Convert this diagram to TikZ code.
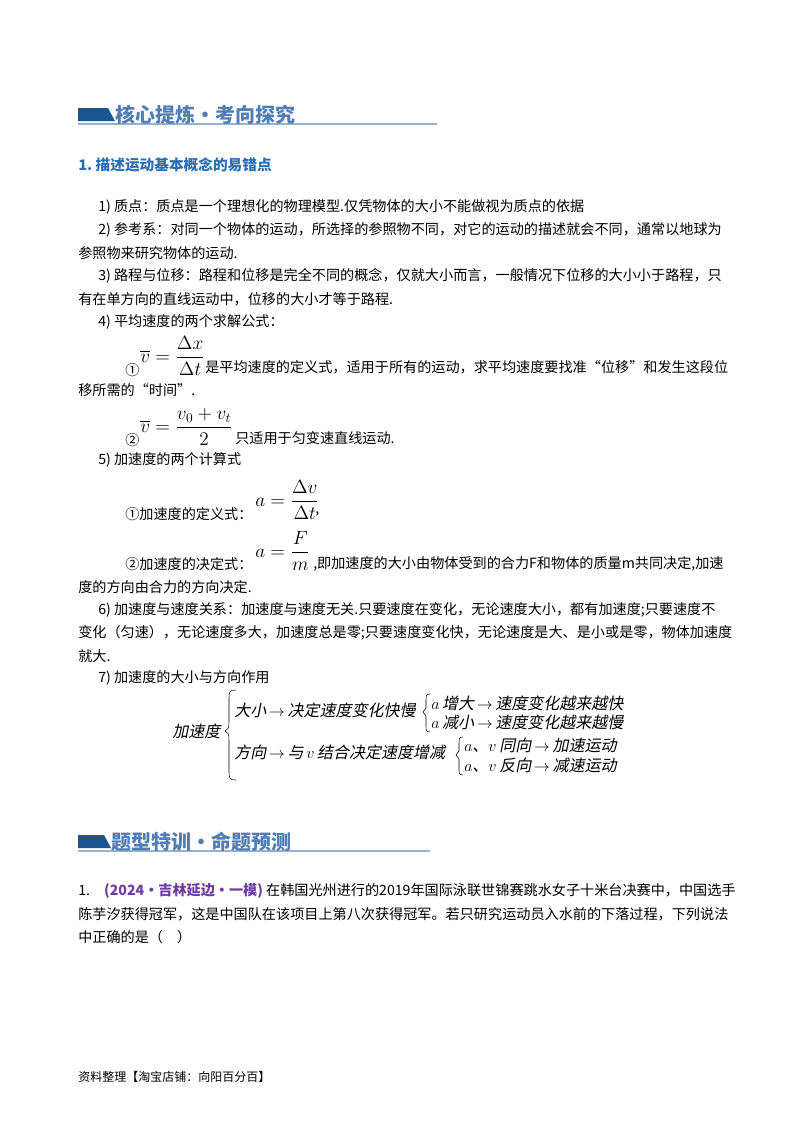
\documentclass[tikz,border=0pt]{standalone}
\usepackage{amsmath}
\usepackage{fontspec}
\setmainfont{Liberation Serif}
\newfontfamily\cjk{Noto Sans CJK SC}
\newfontfamily\cjki[FakeSlant=0.2]{Noto Sans CJK SC}
\definecolor{hdr}{RGB}{25,85,145}
\definecolor{hdrt}{RGB}{80,125,180}
\definecolor{sub}{RGB}{40,110,180}
\definecolor{src}{RGB}{110,60,160}
\begin{document}
\begin{tikzpicture}[x=0.75pt,y=-0.75pt,
  tl/.style={anchor=west,inner sep=0pt,font=\fontsize{10.6pt}{12pt}\selectfont\cjk},
  it/.style={anchor=west,inner sep=0pt,font=\fontsize{12pt}{14pt}\selectfont\cjki},
  hd/.style={anchor=west,inner sep=0pt,font=\fontsize{15pt}{17pt}\selectfont\cjk\bfseries,text=hdrt}]
\useasboundingbox (0,0) rectangle (800,1132);
% header 1
\fill[hdr] (78,108) -- (78,121) -- (115,121) -- (108,108) -- cycle;
\draw[hdrt!60,line width=0.8pt] (78,124) -- (437,124);
\node[hd] (h1) at (115,115) {核心提炼·考向探究};
\node[tl,font=\fontsize{11pt}{13pt}\selectfont\cjk\bfseries,text=sub] (s1) at (78,165) {1.\ 描述运动基本概念的易错点};
\node[tl] (l1) at (98,207) {1)\ 质点：质点是一个理想化的物理模型.仅凭物体的大小不能做视为质点的依据};
\node[tl] (l2) at (98,230) {2)\ 参考系：对同一个物体的运动，所选择的参照物不同，对它的运动的描述就会不同，通常以地球为};
\node[tl] (l2b) at (78,253) {参照物来研究物体的运动.};
\node[tl] (l3) at (98,276) {3)\ 路程与位移：路程和位移是完全不同的概念，仅就大小而言，一般情况下位移的大小小于路程，只};
\node[tl] (l3b) at (78,299) {有在单方向的直线运动中，位移的大小才等于路程.};
\node[tl] (l4) at (98,322) {4)\ 平均速度的两个求解公式：};
\node[anchor=west,inner sep=0pt,font=\fontsize{14pt}{16pt}\selectfont] (f1) at (140,356) {$\overline{v}=\dfrac{\Delta x}{\Delta t}$};
\node[tl] (c1) at (125,370) {①};
\node[tl] (l4a) at (205,367) {是平均速度的定义式，适用于所有的运动，求平均速度要找准“位移”和发生这段位};
\node[tl] (l4ab) at (78,390) {移所需的“时间”.};
\node[anchor=west,inner sep=0pt,font=\fontsize{14pt}{16pt}\selectfont] (f2) at (140,427) {$\overline{v}=\dfrac{v_0+v_t}{2}$};
\node[tl] (c2) at (125,440) {②};
\node[tl] (l4c) at (235,438) {只适用于匀变速直线运动.};
\node[tl] (l5) at (98,460) {5)\ 加速度的两个计算式};
\node[tl] (l5a) at (125,514) {①加速度的定义式：};
\node[anchor=west,inner sep=0pt,font=\fontsize{14pt}{16pt}\selectfont] (f3) at (255,500) {$a=\dfrac{\Delta v}{\Delta t}$};
\node[tl] (cm) at (315,514) {,};
\node[tl] (l5b) at (125,564) {②加速度的决定式：};
\node[anchor=west,inner sep=0pt,font=\fontsize{14pt}{16pt}\selectfont] (f4) at (255,551) {$a=\dfrac{F}{m}$};
\node[tl] (l5c) at (313,564) {,即加速度的大小由物体受到的合力F和物体的质量m共同决定,加速};
\node[tl] (l5d) at (78,587) {度的方向由合力的方向决定.};
\node[tl] (l6) at (98,610) {6)\ 加速度与速度关系：加速度与速度无关.只要速度在变化，无论速度大小，都有加速度;只要速度不};
\node[tl] (l6b) at (78,633) {变化（匀速），无论速度多大，加速度总是零;只要速度变化快，无论速度是大、是小或是零，物体加速度};
\node[tl] (l6c) at (78,656) {就大.};
\node[tl] (l7) at (98,678) {7)\ 加速度的大小与方向作用};
% tree
\node[it] (r) at (172,731) {加速度};
\draw (236,690) .. controls (229,690) and (229,692) .. (229,700) -- (229,722) .. controls (229,728) and (228,730) .. (225,731) .. controls (228,732) and (229,734) .. (229,740) -- (229,770) .. controls (229,778) and (229,780) .. (236,780);
\node[it] (a1) at (234,710) {大小\,$\rightarrow$\,决定速度变化快慢};
\draw (430,694) .. controls (426,694) and (426,696) .. (426,700) -- (426,708) -- (423,712) -- (426,716) -- (426,726) .. controls (426,730) and (426,732) .. (430,732);
\node[it] (a11) at (431,703) {$a$\,增大\,$\rightarrow$\,速度变化越来越快};
\node[it] (a12) at (431,722) {$a$\,减小\,$\rightarrow$\,速度变化越来越慢};
\node[it] (a2) at (234,752) {方向\,$\rightarrow$\,与\,$v$\,结合决定速度增减};
\draw (463,737) .. controls (459,737) and (459,739) .. (459,743) -- (459,751) -- (456,755) -- (459,759) -- (459,769) .. controls (459,773) and (459,775) .. (463,775);
\node[it] (a21) at (464,745) {$a$、$v$\,同向\,$\rightarrow$\,加速运动};
\node[it] (a22) at (464,765) {$a$、$v$\,反向\,$\rightarrow$\,减速运动};
% header 2
\fill[hdr] (78,835) -- (78,848) -- (111,848) -- (104,835) -- cycle;
\draw[hdrt!60,line width=0.8pt] (78,851) -- (430,851);
\node[hd] (h2) at (111,842) {题型特训·命题预测};
\node[tl] (q1) at (78,891) {1.\quad{\bfseries\color{src}(2024·吉林延边·一模)}\ 在韩国光州进行的2019年国际泳联世锦赛跳水女子十米台决赛中，中国选手};
\node[tl] (q1b) at (78,914) {陈芋汐获得冠军，这是中国队在该项目上第八次获得冠军。若只研究运动员入水前的下落过程，下列说法};
\node[tl] (q1c) at (78,937) {中正确的是（\quad）};
\node[tl,font=\fontsize{9pt}{11pt}\selectfont\cjk] (ft) at (78,1077) {资料整理【淘宝店铺：向阳百分百】};
\end{tikzpicture}
\end{document}
